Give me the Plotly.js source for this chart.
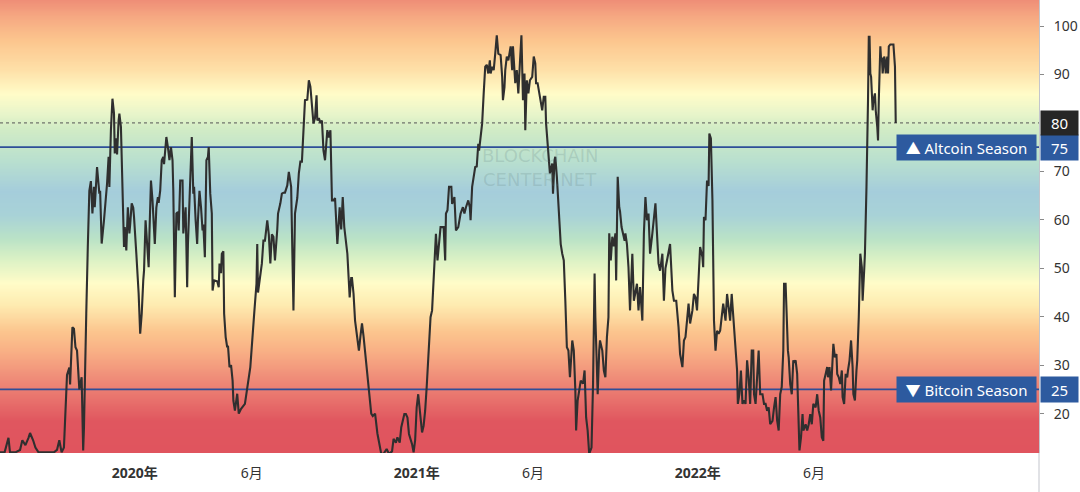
<!DOCTYPE html>
<html><head><meta charset="utf-8">
<script src="https://cdn.plot.ly/plotly-3.0.1.min.js"></script>
<style>html,body{margin:0;padding:0;background:#fff}#chart{width:1080px;height:492px}</style>
</head><body><div id="chart"></div>
<script>
// ---- DATA ----
const dates = [
'2019-07-10','2019-07-16','2019-07-21','2019-07-23','2019-07-30','2019-08-05','2019-08-08','2019-08-12','2019-08-16','2019-08-18',
'2019-08-22','2019-08-25','2019-08-29','2019-09-03','2019-09-13','2019-09-18','2019-09-22','2019-09-25','2019-09-28','2019-10-01',
'2019-10-05','2019-10-08','2019-10-09','2019-10-12','2019-10-14','2019-10-16','2019-10-18','2019-10-21','2019-10-24','2019-10-26',
'2019-10-27','2019-10-29','2019-10-30','2019-11-01','2019-11-03','2019-11-05','2019-11-07','2019-11-09','2019-11-10','2019-11-13',
'2019-11-16','2019-11-17','2019-11-19','2019-11-22','2019-11-24','2019-11-26','2019-11-28','2019-11-29','2019-12-01','2019-12-03',
'2019-12-05','2019-12-06','2019-12-08','2019-12-09','2019-12-11','2019-12-12','2019-12-14','2019-12-16','2019-12-18','2019-12-19',
'2019-12-21','2019-12-23','2019-12-25','2019-12-26','2019-12-28','2019-12-30','2019-12-31','2020-01-03','2020-01-06','2020-01-08',
'2020-01-10','2020-01-12','2020-01-13','2020-01-15','2020-01-17','2020-01-19','2020-01-20','2020-01-22','2020-01-24','2020-01-25',
'2020-01-27','2020-01-29','2020-01-31','2020-02-01','2020-02-03','2020-02-05','2020-02-07','2020-02-08','2020-02-11','2020-02-13',
'2020-02-15','2020-02-17','2020-02-19','2020-02-20','2020-02-22','2020-02-24','2020-02-26','2020-02-27','2020-02-29','2020-03-03',
'2020-03-04','2020-03-07','2020-03-09','2020-03-10','2020-03-12','2020-03-15','2020-03-17','2020-03-18','2020-03-20','2020-03-22',
'2020-03-23','2020-03-25','2020-03-27','2020-03-29','2020-03-30','2020-04-01','2020-04-03','2020-04-05','2020-04-06','2020-04-08',
'2020-04-10','2020-04-11','2020-04-13','2020-04-17','2020-04-19','2020-04-20','2020-04-22','2020-04-23','2020-04-25','2020-04-26',
'2020-04-28','2020-04-30','2020-05-01','2020-05-03','2020-05-05','2020-05-07','2020-05-08','2020-05-10','2020-05-13','2020-05-15',
'2020-05-18','2020-05-23','2020-05-30','2020-06-01','2020-06-04','2020-06-07','2020-06-08','2020-06-09','2020-06-12','2020-06-14',
'2020-06-16','2020-06-18','2020-06-21','2020-06-23','2020-06-25','2020-06-27','2020-06-29','2020-07-01','2020-07-04','2020-07-05',
'2020-07-08','2020-07-10','2020-07-12','2020-07-14','2020-07-17','2020-07-19','2020-07-22','2020-07-23','2020-07-25','2020-07-27',
'2020-07-30','2020-08-01','2020-08-03','2020-08-05','2020-08-07','2020-08-09','2020-08-12','2020-08-14','2020-08-16','2020-08-18',
'2020-08-20','2020-08-22','2020-08-24','2020-08-25','2020-08-27','2020-08-29','2020-08-31','2020-09-02','2020-09-04','2020-09-07',
'2020-09-09','2020-09-11','2020-09-13','2020-09-15','2020-09-17','2020-09-20','2020-09-23','2020-09-25','2020-09-27','2020-09-29',
'2020-10-01','2020-10-03','2020-10-06','2020-10-08','2020-10-09','2020-10-11','2020-10-13','2020-10-18','2020-10-20','2020-10-22',
'2020-10-24','2020-10-26','2020-10-29','2020-10-31','2020-11-03','2020-11-05','2020-11-08','2020-11-11','2020-11-13','2020-11-16',
'2020-11-19','2020-11-23','2020-11-26','2020-11-30','2020-12-02','2020-12-05','2020-12-07','2020-12-10','2020-12-12','2020-12-14',
'2020-12-16','2020-12-18','2020-12-20','2020-12-22','2020-12-24','2020-12-26','2020-12-28','2020-12-30','2021-01-01','2021-01-03',
'2021-01-06','2021-01-08','2021-01-10','2021-01-12','2021-01-14','2021-01-16','2021-01-19','2021-01-21','2021-01-24','2021-01-26',
'2021-01-28','2021-01-30','2021-02-01','2021-02-03','2021-02-05','2021-02-07','2021-02-08','2021-02-10','2021-02-12','2021-02-15',
'2021-02-16','2021-02-19','2021-02-21','2021-02-24','2021-02-27','2021-03-02','2021-03-04','2021-03-06','2021-03-09','2021-03-11',
'2021-03-12','2021-03-14','2021-03-16','2021-03-18','2021-03-20','2021-03-22','2021-03-23','2021-03-25','2021-03-27','2021-03-29',
'2021-03-31','2021-04-02','2021-04-04','2021-04-06','2021-04-07','2021-04-09','2021-04-11','2021-04-13','2021-04-15','2021-04-17',
'2021-04-20','2021-04-22','2021-04-23','2021-04-25','2021-04-26','2021-04-28','2021-04-30','2021-05-03','2021-05-05','2021-05-06',
'2021-05-08','2021-05-09','2021-05-11','2021-05-13','2021-05-15','2021-05-17','2021-05-19','2021-05-21','2021-05-22','2021-05-24',
'2021-05-26','2021-05-28','2021-05-31','2021-06-02','2021-06-04','2021-06-05','2021-06-07','2021-06-10','2021-06-11','2021-06-13',
'2021-06-15','2021-06-17','2021-06-18','2021-06-20','2021-06-22','2021-06-23','2021-06-26','2021-06-27','2021-06-29','2021-06-30',
'2021-07-02','2021-07-04','2021-07-06','2021-07-07','2021-07-09','2021-07-11','2021-07-13','2021-07-15','2021-07-17','2021-07-19',
'2021-07-22','2021-07-24','2021-07-26','2021-07-27','2021-07-29','2021-07-31','2021-08-02','2021-08-05','2021-08-07','2021-08-09',
'2021-08-11','2021-08-13','2021-08-16','2021-08-18','2021-08-20','2021-08-21','2021-08-23','2021-08-24','2021-08-26','2021-08-27',
'2021-08-30','2021-09-01','2021-09-03','2021-09-05','2021-09-07','2021-09-08','2021-09-10','2021-09-12','2021-09-14','2021-09-16',
'2021-09-17','2021-09-19','2021-09-21','2021-09-22','2021-09-24','2021-09-26','2021-09-28','2021-09-29','2021-10-01','2021-10-03',
'2021-10-05','2021-10-08','2021-10-10','2021-10-12','2021-10-14','2021-10-16','2021-10-18','2021-10-21','2021-10-23','2021-10-25',
'2021-10-27','2021-10-29','2021-10-31','2021-11-03','2021-11-05','2021-11-07','2021-11-09','2021-11-11','2021-11-13','2021-11-16',
'2021-11-18','2021-11-20','2021-11-22','2021-11-24','2021-11-26','2021-11-29','2021-12-01','2021-12-04','2021-12-07','2021-12-09',
'2021-12-12','2021-12-14','2021-12-16','2021-12-18','2021-12-20','2021-12-22','2021-12-25','2021-12-27','2021-12-29','2021-12-31',
'2022-01-02','2022-01-04','2022-01-07','2022-01-08','2022-01-09','2022-01-11','2022-01-13','2022-01-15','2022-01-16','2022-01-18',
'2022-01-20','2022-01-21','2022-01-22','2022-01-24','2022-01-26','2022-01-28','2022-01-30','2022-02-01','2022-02-03','2022-02-06',
'2022-02-08','2022-02-10','2022-02-12','2022-02-14','2022-02-17','2022-02-19','2022-02-21','2022-02-22','2022-02-24','2022-02-26',
'2022-02-28','2022-03-02','2022-03-04','2022-03-06','2022-03-08','2022-03-10','2022-03-12','2022-03-14','2022-03-15','2022-03-17',
'2022-03-19','2022-03-21','2022-03-23','2022-03-26','2022-03-28','2022-03-30','2022-04-01','2022-04-03','2022-04-05','2022-04-08',
'2022-04-10','2022-04-12','2022-04-14','2022-04-16','2022-04-18','2022-04-20','2022-04-22','2022-04-23','2022-04-25','2022-04-26',
'2022-04-28','2022-04-29','2022-05-01','2022-05-03','2022-05-05','2022-05-06','2022-05-08','2022-05-10','2022-05-11','2022-05-13',
'2022-05-15','2022-05-17','2022-05-18','2022-05-21','2022-05-23','2022-05-25','2022-05-27','2022-05-29','2022-05-31','2022-06-03',
'2022-06-05','2022-06-07','2022-06-09','2022-06-11','2022-06-13','2022-06-14','2022-06-16','2022-06-18','2022-06-19','2022-06-21',
'2022-06-23','2022-06-25','2022-06-26','2022-06-28','2022-06-30','2022-07-01','2022-07-03','2022-07-05','2022-07-07','2022-07-08',
'2022-07-10','2022-07-12','2022-07-14','2022-07-15','2022-07-17','2022-07-19','2022-07-21','2022-07-22','2022-07-24','2022-07-26',
'2022-07-27','2022-07-29','2022-07-31','2022-08-02','2022-08-03','2022-08-05','2022-08-06','2022-08-08','2022-08-09','2022-08-10',
'2022-08-11','2022-08-12','2022-08-13','2022-08-14','2022-08-16','2022-08-17','2022-08-19','2022-08-20','2022-08-22','2022-08-23',
'2022-08-24','2022-08-26','2022-08-27','2022-08-28','2022-08-29','2022-08-31','2022-09-01','2022-09-02','2022-09-04','2022-09-05',
'2022-09-06','2022-09-08','2022-09-10','2022-09-12','2022-09-14','2022-09-15'
];
const altIndex = [
12,12,15,12,12,12.5,14.5,13.5,15,16,
14.5,13,12,12,12,12,12.5,14.5,12,13,
28,29.5,26,37.8,37.5,33.7,33,25,27.5,12.4,
17,37,40.6,54.4,66,68,61.3,66.8,62.6,70.9,
65.4,66,55.1,59.9,63.4,67.5,73,66.8,78.5,85,
82,73.7,76.8,73.5,80.5,81.9,79.2,66.8,54.4,58.5,
53.7,62.6,57.2,59,63.4,62.5,60.6,53,44.8,36.5,
40.6,47.5,49.5,59.9,54.5,50.2,57,68.1,64,60,
55,62.5,64.7,63.5,66,72.3,73,71.5,77.1,75,
72.3,75,72.3,66,44,61.3,61.6,57.8,68.1,68.1,
57.2,62.6,46.1,55,62.6,77.1,65.4,66.8,59.9,55,
59.9,66,62.6,57.8,59,52.3,72.3,73,75,65.4,
61.3,45.4,47.5,47.3,46.1,51,49,53,53.5,40.6,
35.8,33.7,34,29.6,30,26.8,22.7,20.6,24.1,20,
21,22,29.6,35,40.6,46.8,55,45,48.9,51,
55.7,55.7,59.9,57,51,57,56.5,51.6,58,61.3,
63.4,65.4,65.6,65.6,67.1,69.9,66.8,59.9,41.3,61.3,
64.5,69.6,72,72,77.9,84.7,84.8,88.8,87.5,84,
79.9,81,85.7,80.5,81,80,80.5,74.3,72.3,78.5,
77,78.5,64,64,64.5,55,62.6,58,64.7,58.5,
55.7,53,44,48,48,44.8,39.2,33,36,38.6,
36,33,28.3,24.8,20,19.5,20,15.9,14,11.7,
11.7,12.7,11.7,12.2,14.8,14,15.1,14,17.2,18.6,
19.9,19.9,19.2,15.8,14.8,13.7,12,14.5,21.3,24,
19.2,16.1,17.5,20.6,25.5,31,39.9,41.3,52.3,57.1,
51.6,54.5,58.5,58.5,58.5,51.6,61.3,62,66.8,66.8,
63.3,64.7,57.8,58.5,61.3,62.6,61.3,62.6,64,62.6,
59.9,66.8,68.9,70.9,71,75.7,74.3,77.8,79.9,86.1,
91.6,92,90.2,92.9,90.2,91.6,90.9,94.3,98.1,94.3,
94,89.5,84.7,87.4,90.9,93.7,92.9,95.8,90.9,95.8,
89.5,88.2,90.9,86.1,92.3,98.1,84.7,90.2,78.5,88.8,
86.1,88.8,89.5,93.7,92.3,88.2,88.2,85.4,84.7,82.6,
85.4,85.4,79.9,75.7,70.9,69.6,71.6,65.4,72.3,73,
68.9,62.6,55.7,55,53,51.6,43.3,33.7,33,27.5,
35.1,33,24.8,16.5,22.7,24.8,26.8,26.2,28.9,19.2,
16.5,11.7,13,26.1,48.9,39.9,29.6,24,33,35.1,
33,28.9,27.5,35.8,39.9,57.2,51.6,56.5,54.5,57.2,
47.5,68.9,62.6,61.8,58.5,57.2,55.7,57.2,55,50.2,
41.3,53,43.3,45,46.8,41.3,46.1,39.2,57.2,64.7,
59.9,61.3,53,57.2,61.3,63.4,57.2,51,49.5,53,
43.3,50,51.6,53,55,45.4,43.3,43.3,37.8,32.3,
29.6,35.1,35.8,39.2,42.7,38.6,41.3,44.7,44,41.3,
47.5,54.4,52.3,50.2,60.6,59.9,68.1,67,77.8,76.8,
64,43.3,39.2,33,37.1,36.5,37.1,39.9,42.7,39.2,
44.7,42,39.2,44.7,37.1,33,28.9,22,24,28.9,
22,22.7,22,31,27.5,22,33,33,24,22,
27.5,33,24,24,22,22,20.6,21.3,17.8,18.5,
21.3,23.4,18.6,16.5,24,25.5,33,46.8,46.8,41.3,
33,31.6,26.1,24,31,30.6,31,28.2,22.7,12.4,
15.1,19.9,16.5,17.8,16.5,17.8,19.9,17.8,22,21.3,
24,20.6,19.2,15.1,14.4,26.8,28.2,29.6,27.5,29.6,
24.8,31,34.4,31.6,32.3,28.2,27.5,26.1,28.9,23.4,
22,28.2,27.5,28.9,31,35.1,29.6,24,22.7,28.9,
31,39.9,53,50.2,43.3,49.5,53,66.8,74.3,84.7,
97.8,97.8,90.2,89.5,82.6,84.7,86.1,82.6,79.2,76.4,
84.7,95.8,92.9,93.5,90.2,93.7,92.9,90.2,93.7,90.2,
95.8,96.2,96.2,96.2,91.6,80
];
const altcoinSeasonLevel = 75;
const bitcoinSeasonLevel = 25;
const altcoinLabel = '▲ Altcoin Season';
const bitcoinLabel = '▼ Bitcoin Season';
const yTickVals = [20, 30, 40, 50, 60, 70, 80, 90, 100];
const xTickVals = ['2020-01-01','2020-06-01','2021-01-01','2021-06-01','2022-01-01','2022-06-01'];
const xTickText = ['<b>2020年</b>','6月','<b>2021年</b>','6月','<b>2022年</b>','6月'];
const watermarkLines = ['BLOCKCHAIN', 'CENTER.NET'];

// ---- STYLE ----
const X_RANGE = ['2019-07-10', '2023-03-20'];
const Y_RANGE = [11.87, 105.37];
const gradStops = [
  [11.87,'#e0545e'],[18.5,'#e0565f'],[23,'#e8716c'],[28,'#f0907a'],[32.5,'#f8ad84'],
  [37,'#fcc58e'],[42.5,'#feebb0'],[47,'#fffcc8'],[52,'#daf1c5'],[56,'#bbe3c6'],
  [61,'#a8d2d7'],[66,'#a5cddb'],[72,'#b8dfcf'],[79,'#d2ecc5'],[82,'#e8f5ca'],
  [86,'#fffcc8'],[91,'#fee0a8'],[97,'#fcc68e'],[102,'#f6a882'],[105.37,'#ef8e77']
];
const FONT = '"Noto Sans", "Noto Sans CJK SC", "DejaVu Sans", sans-serif';
const BLUE_LINE = '#2e4e98';
const BLUE_BOX = '#2d5a9f';

const span = Y_RANGE[1] - Y_RANGE[0];
const bgY = [];
for (let v = 0; v <= 112; v += 0.5) bgY.push(v);
const background = {
  type: 'heatmap', x: ['2019-01-01', '2024-01-01'], y: bgY,
  z: bgY.map(v => [v, v]), zmin: Y_RANGE[0], zmax: Y_RANGE[1],
  colorscale: gradStops.map(([v, c]) => [(v - Y_RANGE[0]) / span, c]),
  zsmooth: 'best', showscale: false, hoverinfo: 'skip'
};
const levelTrace = (lvl) => ({
  type: 'scatter', mode: 'lines', x: X_RANGE, y: [lvl, lvl],
  line: {color: BLUE_LINE, width: 1.6}, hoverinfo: 'skip'
});
const lastValue = altIndex[altIndex.length - 1];
const lastTrace = {
  type: 'scatter', mode: 'lines', x: X_RANGE, y: [lastValue, lastValue],
  line: {color: '#555', width: 1, dash: 'dot'}, hoverinfo: 'skip'
};
const indexTrace = {
  type: 'scatter', mode: 'lines', x: dates, y: altIndex,
  line: {color: '#2f2f2f', width: 2.1}, name: 'Altcoin Season Index'
};

const boxLabel = (y, text, bg, side, w, h) => ({
  xref: 'paper', x: 1, xanchor: side === 'left' ? 'right' : 'left',
  xshift: side === 'left' ? -2 : 1,
  yref: 'y', y: y, yanchor: 'middle', text: text, showarrow: false,
  bgcolor: bg, width: w, height: h, borderpad: 0, align: 'center', valign: 'middle',
  font: {family: FONT, size: 15, color: '#ffffff'}
});

const wmFont = {family: '"DejaVu Sans", sans-serif', size: 18, color: 'rgba(90,120,120,0.2)'};
const annotations = [
  boxLabel(altcoinSeasonLevel, altcoinLabel, BLUE_BOX, 'left', 139, 25),
  boxLabel(altcoinSeasonLevel, String(altcoinSeasonLevel), BLUE_BOX, 'right', 37, 25),
  boxLabel(bitcoinSeasonLevel, bitcoinLabel, BLUE_BOX, 'left', 139, 25),
  boxLabel(bitcoinSeasonLevel, String(bitcoinSeasonLevel), BLUE_BOX, 'right', 37, 25),
  boxLabel(lastValue, String(lastValue), '#262626', 'right', 37, 24),
  {xref: 'paper', x: 0.52, yref: 'paper', y: 1 - 155/453, text: watermarkLines[0], showarrow: false, font: wmFont},
  {xref: 'paper', x: 0.52, yref: 'paper', y: 1 - 179/453, text: watermarkLines[1], showarrow: false, font: wmFont}
];

const layout = {
  width: 1080, height: 492,
  margin: {l: 0, r: 41, t: 0, b: 39, pad: 0},
  paper_bgcolor: '#ffffff', plot_bgcolor: '#ffffff',
  showlegend: false,
  font: {family: FONT, color: '#333'},
  xaxis: {
    type: 'date', range: X_RANGE, tickvals: xTickVals, ticktext: xTickText,
    showgrid: false, zeroline: false, showline: false, ticks: '',
    tickfont: {family: FONT, size: 14, color: '#333'}, ticklabelstandoff: 10
  },
  yaxis: {
    side: 'right', range: Y_RANGE,
    // the tick hidden under the last-value badge is not drawn twice
    tickvals: yTickVals.filter(v => v !== lastValue),
    showgrid: false, zeroline: false, showline: true, linecolor: '#c3c5cc', linewidth: 1,
    ticks: 'outside', ticklen: 4, tickcolor: '#8a8a8a',
    tickfont: {family: FONT, size: 14, color: '#333'}, ticklabelstandoff: 7
  },
  shapes: [
    {type: 'line', xref: 'paper', yref: 'paper', x0: 1, x1: 1, y0: -0.09, y1: 0,
     line: {color: '#c3c5cc', width: 1}}
  ],
  annotations: annotations
};

Plotly.newPlot('chart', [background, levelTrace(altcoinSeasonLevel), levelTrace(bitcoinSeasonLevel), lastTrace, indexTrace], layout, {displayModeBar: false, staticPlot: true});
</script>
</body></html>
